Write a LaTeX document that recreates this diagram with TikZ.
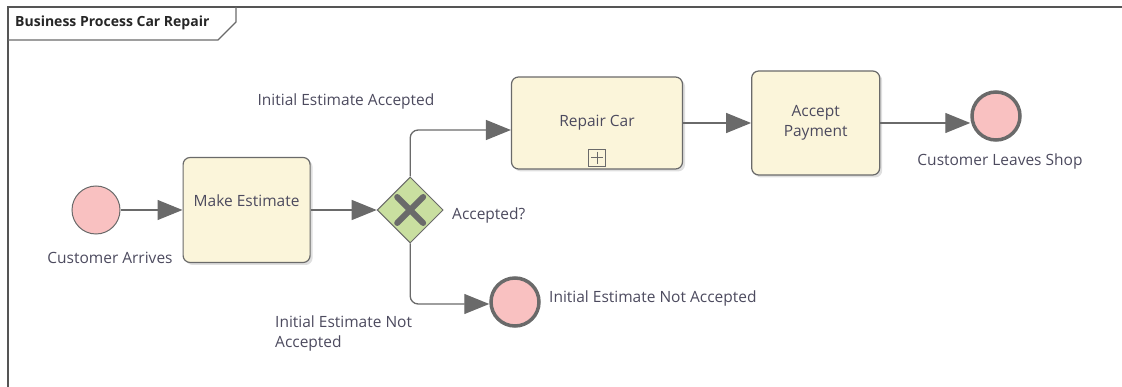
\documentclass[tikz,border=0pt]{standalone}
\usepackage{fontspec}
\setmainfont{Open Sans}
\usepackage{tikz}
\usetikzlibrary{positioning,arrows.meta,shapes.geometric,shadows}
\definecolor{taskfill}{HTML}{FBF5DA}
\definecolor{eventfill}{HTML}{F9C1C1}
\definecolor{gatefill}{HTML}{C9DFA0}
\definecolor{linegray}{HTML}{6A6A6A}
\definecolor{txtgray}{HTML}{4C4A5E}

\begin{document}
\begin{tikzpicture}[
    x=1pt, y=-1pt,
    node distance=60pt and 62pt,
    every node/.style={font=\fontsize{15.5}{20}\selectfont, text=txtgray},
    task/.style={draw=linegray, line width=1.2pt, rounded corners=7pt, fill=taskfill,
      align=center, inner sep=2pt,
      drop shadow={shadow xshift=2.5pt, shadow yshift=-2.5pt, opacity=0.25}},
    startev/.style={draw=linegray, line width=1pt, circle, fill=eventfill, minimum size=48pt, inner sep=0pt},
    endev/.style={draw=linegray, line width=3.5pt, circle, fill=eventfill, minimum size=48pt, inner sep=0pt},
    gate/.style={draw=linegray, line width=1pt, diamond, fill=gatefill, minimum width=66pt, minimum height=66pt, inner sep=0pt},
    flow/.style={draw=linegray, line width=1.3pt, -{Triangle[length=25pt, width=20pt]}},
    lbl/.style={inner sep=0pt}
  ]
  \useasboundingbox (0,0) rectangle (1122,387);

  % diagram frame
  \draw[linegray!80!black, line width=1.6pt] (8,387) -- (8,7) -- (1122,7);
  \draw[linegray, line width=1.2pt] (8,40) -- (218,40) -- (236,22) -- (236,7);
  \node[lbl, anchor=west, text=black!85, font=\fontsize{14}{16}\selectfont\bfseries] (title) at (15,23) {Business Process Car Repair};

  % start
  \node[startev] (start) at (96,210) {};
  \node[lbl] (startlbl) at (110,258) {Customer Arrives};

  % make estimate
  \node[task, right=62pt of start, minimum width=127pt, minimum height=105pt, text depth=19pt] (est) {Make Estimate};

  % gateway
  \node[gate, right=66pt of est] (gw) {};
  \draw[linegray, line width=6pt, line cap=round]
    ([shift={(-13pt,-13pt)}]gw.center) -- ([shift={(13pt,13pt)}]gw.center)
    ([shift={(-13pt,13pt)}]gw.center) -- ([shift={(13pt,-13pt)}]gw.center);
  \node[lbl, anchor=west] (gwlbl) at (452,215) {Accepted?};

  % repair car (sub-process)
  \node[task, minimum width=171pt, minimum height=92pt] (repair) at (597,123) {Repair Car};
  \node[draw=linegray, line width=1pt, minimum size=17pt, inner sep=0pt, above=3pt of repair.south] (sub) {};
  \draw[linegray, line width=1pt] ([yshift=-3pt]sub.north) -- ([yshift=3pt]sub.south)
    ([xshift=3pt]sub.west) -- ([xshift=-3pt]sub.east);

  % accept payment
  \node[task, right=68pt of repair, minimum width=128pt, minimum height=104pt] (pay) {Accept\\Payment};

  % ends
  \node[endev] (endok) at (996,116) {};
  \node[lbl] (endoklbl) at (1000,161) {Customer Leaves Shop};
  \node[endev] (endno) at (515,302) {};
  \node[lbl, anchor=west] (endnolbl) at (549,298) {Initial Estimate Not Accepted};

  % flow labels
  \node[lbl] (yeslbl) at (346,101) {Initial Estimate Accepted};
  \node[lbl, align=left, anchor=north west] (nolbl) at (275,316) {Initial Estimate Not\\Accepted};

  % --- flows ---
  \draw[flow] (start) -- (est);
  \draw[flow] (est) -- (gw);
  \draw[flow, rounded corners=8pt] (gw.north) |- ([yshift=-7pt]repair.west);
  \draw[flow, rounded corners=8pt] (gw.south) |- ([yshift=-2pt]endno.west);
  \draw[flow] (repair) -- (pay);
  \draw[flow] (pay.east) -- (pay.east -| endok.west);

\end{tikzpicture}
\end{document}
